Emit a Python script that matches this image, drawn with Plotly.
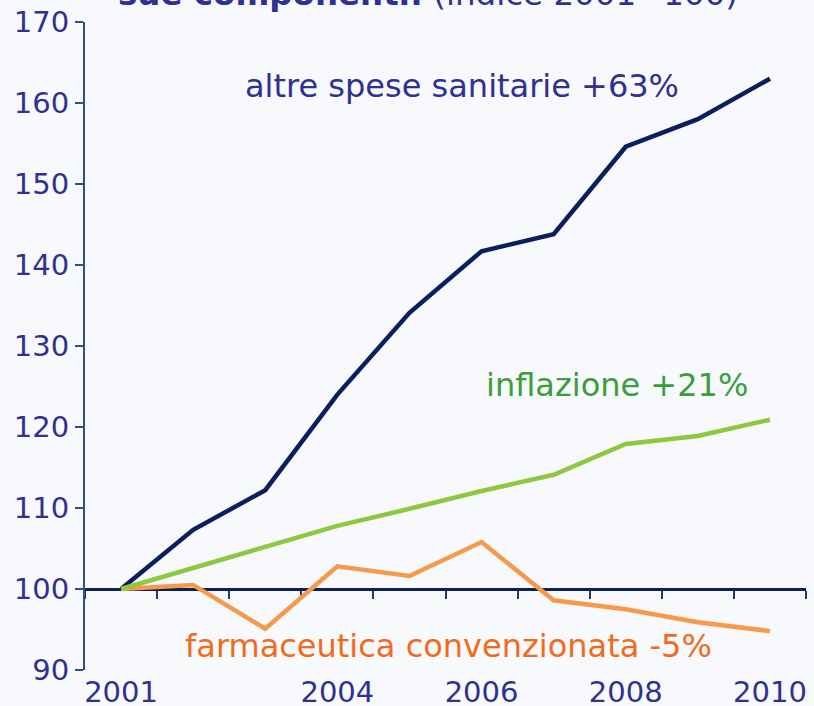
import plotly.graph_objects as go

years = [2001, 2002, 2003, 2004, 2005, 2006, 2007, 2008, 2009, 2010]
altre_spese = [100, 107.3, 112.2, 124.0, 134.1, 141.7, 143.8, 154.6, 158.0, 163.0]
inflazione = [100, 102.6, 105.3, 107.8, 109.9, 112.1, 114.1, 117.9, 118.9, 120.9]
farmaceutica = [100, 100.5, 95.1, 102.8, 101.6, 105.8, 98.6, 97.5, 95.9, 94.8]
x_tick_labels = [2001, 2004, 2006, 2008, 2010]
y_ticks = [90, 100, 110, 120, 130, 140, 150, 160, 170]

FONT = "DejaVu Sans"
TXT = "#2e3192"
BG = "#f8f9fc"

x_lo, x_hi = years[0] - 0.5, years[-1] + 0.5
boundaries = [x_lo] + [y + 0.5 for y in years]

fig = go.Figure()
# invisible trace so the bottom (label) axis is drawn
fig.add_trace(go.Scatter(x=years, y=altre_spese, mode="none", hoverinfo="skip",
                         xaxis="x", yaxis="y"))
fig.add_trace(go.Scatter(x=years, y=altre_spese, mode="lines",
                         line=dict(color="#0b1f5e", width=4.5), xaxis="x2", yaxis="y"))
fig.add_trace(go.Scatter(x=years, y=farmaceutica, mode="lines",
                         line=dict(color="#f7994a", width=4.5), xaxis="x2", yaxis="y"))
fig.add_trace(go.Scatter(x=years, y=inflazione, mode="lines",
                         line=dict(color="#8dc93f", width=4.5), xaxis="x2", yaxis="y"))

W, H = 814, 706
L, R, T, B = 85, 8, 22, 36
pw, ph = W - L - R, H - T - B


def px(xp):
    return (xp - L) / pw


def py(yp):
    return (H - B - yp) / ph


fig.update_layout(
    width=W, height=H,
    margin=dict(l=L, r=R, t=T, b=B, autoexpand=False),
    paper_bgcolor=BG, plot_bgcolor=BG,
    showlegend=False,
    font=dict(family=FONT, color=TXT),
    xaxis=dict(range=[x_lo, x_hi], tickvals=x_tick_labels,
               ticktext=[str(v) for v in x_tick_labels], automargin=False,
               ticks="", showline=False, showgrid=False, zeroline=False,
               ticklabelstandoff=2,
               tickfont=dict(family=FONT, size=29, color=TXT)),
    xaxis2=dict(range=[x_lo, x_hi], overlaying="x", anchor="free",
                position=(100 - 90) / 80, showticklabels=False,
                tickvals=boundaries, automargin=False,
                ticks="outside", ticklen=8, tickwidth=2,
                tickcolor="#1f3a72", showline=True, linecolor="#0b1f5e",
                linewidth=3, showgrid=False, zeroline=False, layer="below traces"),
    yaxis=dict(range=[90, 170], tickvals=y_ticks, ticks="outside", ticklen=8,
               tickwidth=2, tickcolor="#2a4f8a", showline=True, automargin=False,
               linecolor="#2a4f8a", linewidth=2, showgrid=False, zeroline=False,
               tickfont=dict(family=FONT, size=29, color=TXT)),
)

ann = [
    dict(text="altre spese sanitarie +63%", x=px(462), y=py(86), color=TXT),
    dict(text="inflazione +21%", x=px(617), y=py(385), color="#3a9e3a"),
    dict(text="farmaceutica convenzionata -5%", x=px(448), y=py(646), color="#f26a1b"),
]
for a in ann:
    fig.add_annotation(text=a["text"], x=a["x"], y=a["y"], xref="paper", yref="paper",
                       xanchor="center", yanchor="middle", showarrow=False,
                       font=dict(family=FONT, size=32, color=a["color"]))

fig.add_annotation(text="<b>sue componenti:</b> (indice 2001=100)",
                   x=px(116), y=py(-6), xref="paper", yref="paper",
                   xanchor="left", yanchor="middle", showarrow=False,
                   font=dict(family=FONT, size=32.5, color=TXT))

fig.write_html("out.html", config={"displayModeBar": False},
               post_script="document.body.style.margin='0px';"
                           "document.body.style.background='%s';" % BG)
